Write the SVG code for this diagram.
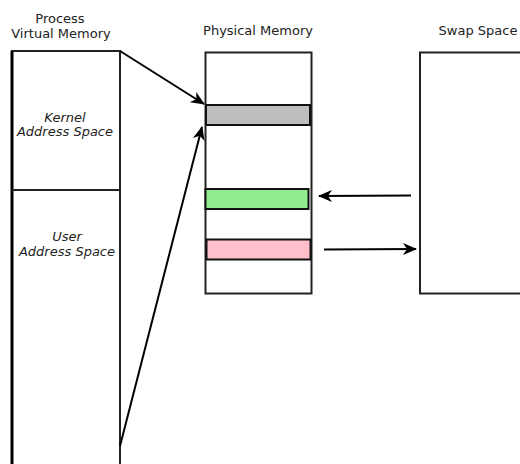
<svg xmlns="http://www.w3.org/2000/svg" width="520" height="464" viewBox="0 0 520 464">
<style>
text{font-family:"DejaVu Sans",sans-serif;font-size:13px;fill:#222;text-anchor:middle}
.it{font-style:italic}
.box{fill:#fff;stroke:#222;stroke-width:2}
.bar{stroke:#111;stroke-width:2}
.con{stroke:#000;stroke-width:2;fill:none}
</style>
<defs>
<marker id="ah" viewBox="0 0 14 12" refX="13" refY="6" markerWidth="14" markerHeight="12" markerUnits="userSpaceOnUse" orient="auto">
<path d="M0,0 L14,6 L0,12 L4,6 Z" fill="#000"/>
</marker>
</defs>
<g id="virtual">
<rect class="box" x="12" y="51" width="108" height="430"/>
<line x1="12" y1="51" x2="12" y2="464" stroke="#000" stroke-width="3"/>
<line x1="12" y1="190" x2="120" y2="190" stroke="#222" stroke-width="2"/>
<text x="60" y="23">Process</text>
<text x="61" y="38">Virtual Memory</text>
<text class="it" x="65" y="122">Kernel</text>
<text class="it" x="65" y="136">Address Space</text>
<text class="it" x="67" y="241">User</text>
<text class="it" x="67" y="256">Address Space</text>
</g>
<g id="physical">
<rect class="box" x="205.5" y="52.5" width="106" height="241"/>
<rect class="bar" x="206" y="105" width="104" height="20" fill="#bebebe"/>
<rect class="bar" x="205.5" y="189" width="103" height="20" fill="#90ee90"/>
<rect class="bar" x="206.5" y="239.5" width="104" height="20" fill="#ffc0cb"/>
<text x="258" y="35">Physical Memory</text>
</g>
<g id="swap">
<rect class="box" x="420" y="52.5" width="110" height="241"/>
<text x="478" y="35">Swap Space</text>
</g>
<g id="connectors">
<line class="con" x1="120" y1="51" x2="204" y2="104" marker-end="url(#ah)"/>
<line class="con" x1="120" y1="446" x2="202" y2="127" marker-end="url(#ah)"/>
<line class="con" x1="411" y1="195.5" x2="319" y2="196" marker-end="url(#ah)"/>
<line class="con" x1="324" y1="249.5" x2="416" y2="249" marker-end="url(#ah)"/>
</g>
</svg>
